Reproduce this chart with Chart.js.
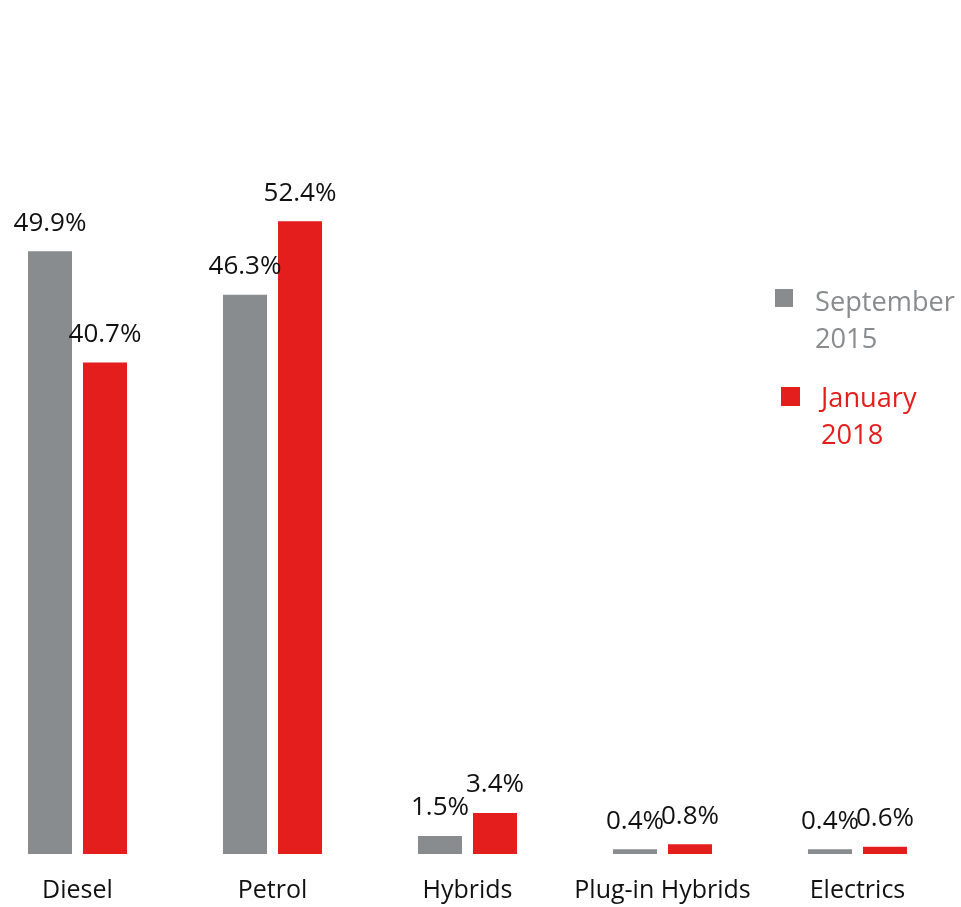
<!DOCTYPE html>
<html>
<head>
<meta charset="utf-8">
<script src="https://cdn.jsdelivr.net/npm/chart.js@4.4.1/dist/chart.umd.min.js"></script>
<style>
  html, body { margin: 0; padding: 0; background: #ffffff; }
  body { width: 961px; height: 907px; position: relative; overflow: hidden; font-family: "Open Sans", sans-serif; }
  #wrap { position: absolute; left: -20px; top: 0; width: 975px; height: 930px; }
  .leg { position: absolute; font-family: "Open Sans", sans-serif; font-size: 27.2px; line-height: 37px; white-space: nowrap; }
  .sw { position: absolute; }
</style>
</head>
<body>
<div id="wrap"><canvas id="c" width="975" height="930" style="width:975px;height:930px"></canvas></div>
<div id="legend"></div>
<script>
const categories = ["Diesel", "Petrol", "Hybrids", "Plug-in Hybrids", "Electrics"];
const seriesNames = [["September", "2015"], ["January", "2018"]];
const sept2015 = [49.9, 46.3, 1.5, 0.4, 0.4];
const jan2018 = [40.7, 52.4, 3.4, 0.8, 0.6];
const valueLabels2015 = ["49.9%", "46.3%", "1.5%", "0.4%", "0.4%"];
const valueLabels2018 = ["40.7%", "52.4%", "3.4%", "0.8%", "0.6%"];

const GREY = "#898c8f";
const RED = "#e31e1c";

const valueLabelPlugin = {
  id: "valueLabels",
  afterDatasetsDraw(chart) {
    const ctx = chart.ctx;
    const labelSets = [valueLabels2015, valueLabels2018];
    ctx.save();
    ctx.font = '26px "Open Sans", sans-serif';
    ctx.fillStyle = "#111111";
    ctx.textAlign = "center";
    ctx.textBaseline = "middle";
    chart.data.datasets.forEach((ds, di) => {
      const meta = chart.getDatasetMeta(di);
      meta.data.forEach((bar, i) => {
        ctx.fillText(labelSets[di][i], bar.x, bar.y - 28);
      });
    });
    ctx.restore();
  }
};

new Chart(document.getElementById("c"), {
  type: "bar",
  data: {
    labels: categories,
    datasets: [
      { label: seriesNames[0].join(" "), data: sept2015, backgroundColor: GREY,
        categoryPercentage: 0.5644, barPercentage: 0.8 },
      { label: seriesNames[1].join(" "), data: jan2018, backgroundColor: RED,
        categoryPercentage: 0.5644, barPercentage: 0.8 }
    ]
  },
  options: {
    responsive: false,
    maintainAspectRatio: false,
    animation: false,
    devicePixelRatio: 1,
    layout: { padding: { top: 129.4, bottom: 2, left: 0, right: 0 } },
    plugins: { legend: { display: false }, tooltip: { enabled: false } },
    scales: {
      x: {
        grid: { display: false, drawTicks: false },
        border: { display: false },
        ticks: { color: "#111111", font: { family: "Open Sans", size: 25 }, padding: 22, maxRotation: 0, autoSkip: false }
      },
      y: { display: false, min: 0, max: 60 }
    }
  },
  plugins: [valueLabelPlugin]
});

// Legend (HTML text)
const legend = document.getElementById("legend");
const legendItems = [
  { lines: seriesNames[0], color: GREY, sw: [775, 289, 18], text: [815, 282] },
  { lines: seriesNames[1], color: RED, sw: [781, 387, 19], text: [821, 378] }
];
legendItems.forEach(it => {
  const s = document.createElement("div");
  s.className = "sw";
  s.style.left = it.sw[0] + "px"; s.style.top = it.sw[1] + "px";
  s.style.width = it.sw[2] + "px"; s.style.height = it.sw[2] + "px";
  s.style.background = it.color;
  legend.appendChild(s);
  const t = document.createElement("div");
  t.className = "leg";
  t.style.left = it.text[0] + "px"; t.style.top = it.text[1] + "px";
  t.style.color = it.color;
  t.innerHTML = it.lines.join("<br>");
  legend.appendChild(t);
});
</script>
</body>
</html>
